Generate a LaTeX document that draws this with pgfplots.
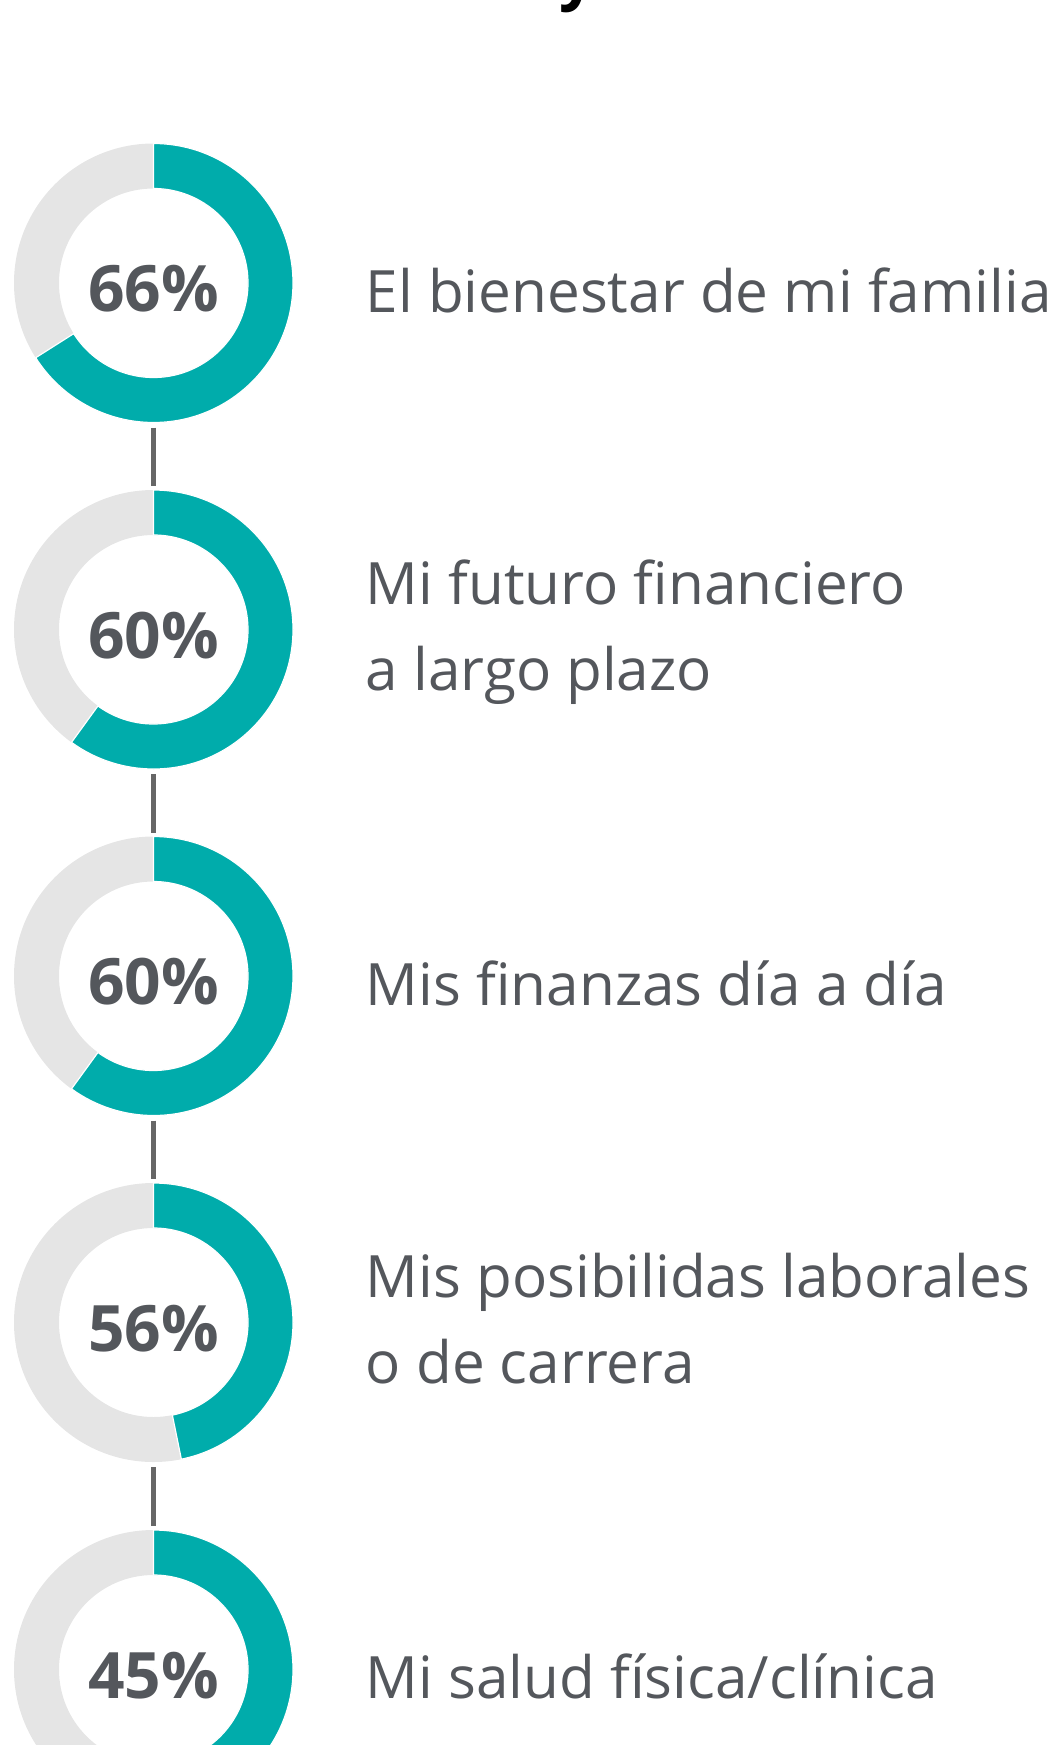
\documentclass[border=0pt]{standalone}
\usepackage{pgfplots}
\usepackage{pgfplotstable}
\pgfplotsset{compat=1.18}
\usepackage{fontspec}
\setmainfont{Open Sans}

\definecolor{ringTeal}{HTML}{00ACAB}
\definecolor{ringGray}{HTML}{E5E5E5}
\definecolor{txtGray}{HTML}{54575C}
\definecolor{linkGray}{HTML}{666666}

% one row per donut: centre (px from top), printed share, share the ring shows
% (the 56% ring is drawn at about 47% in the original)
\pgfplotstableread[col sep=comma]{
y,pct,arc
283.0,66,66
629.5,60,60
976.0,60,60
1322.5,56,46.8
1669.5,45,45
}\donuts

% description lines, baseline in px from top
\pgfplotstableread[col sep=comma]{
y,text
312,El bienestar de mi familia
604,Mi futuro financiero
690,a largo plazo
1005,Mis finanzas día a día
1297,Mis posibilidas laborales
1383,o de carrera
1698,Mi salud física/clínica
}\labels

\begin{document}
\begin{tikzpicture}
\begin{axis}[
  x=0.25pt, y=0.25pt,
  xmin=0, xmax=1063,
  ymin=0, ymax=1745,
  y dir=reverse,
  hide axis,
  clip marker paths=true,
]
% connectors between the rings
\addplot[linkGray, line width=1.25pt, unbounded coords=jump] coordinates {
  (153.5,427.5) (153.5,486)
  (153.5,nan)
  (153.5,774) (153.5,832.5)
  (153.5,nan)
  (153.5,1120.5) (153.5,1179)
  (153.5,nan)
  (153.5,1467) (153.5,1526)
};

% rings, drawn as scatter markers from the arc column
\addplot[scatter, only marks, mark=*, mark size=0pt,
  point meta=explicit symbolic,
  scatter/@pre marker code/.code={%
    \begin{pgfscope}%
    \pgfmathsetmacro\endang{90-3.6*\pgfplotspointmeta}%
    \pgfsetfillcolor{ringGray}%
    \pgfpathcircle{\pgfpointorigin}{34.875pt}%
    \pgfpathcircle{\pgfpointorigin}{23.625pt}%
    \pgfseteorule
    \pgfusepath{fill}%
    \pgfsetnonzerorule
    \pgfpathmoveto{\pgfpointpolar{90}{34.875pt}}%
    \pgfpatharc{90}{\endang}{34.875pt}%
    \pgfpathlineto{\pgfpointpolar{\endang}{23.625pt}}%
    \pgfpatharc{\endang}{90}{23.625pt}%
    \pgfpathclose
    \pgfsetfillcolor{ringTeal}%
    \pgfsetstrokecolor{white}%
    \pgfsetlinewidth{0.3pt}%
    \pgfusepath{fill,stroke}%
    \end{pgfscope}%
  },
  scatter/@post marker code/.code={},
] table[x expr=153.5, y=y, meta=arc] {\donuts};

% percentages in the centre
\addplot[only marks, mark=none,
  point meta=explicit symbolic,
  nodes near coords={\pgfplotspointmeta\%},
  every node near coord/.append style={anchor=base, inner sep=0pt,
    font=\fontsize{16}{19}\selectfont\bfseries, text=txtGray},
] table[x expr=153.5, y expr=\thisrow{y}+28.5, meta=pct] {\donuts};

% descriptions
\addplot[only marks, mark=none,
  point meta=explicit symbolic,
  nodes near coords={\pgfplotspointmeta},
  every node near coord/.append style={anchor=base west, inner sep=0pt,
    font=\fontsize{14.6}{18}\selectfont, text=txtGray},
] table[x expr=365, y=y, meta=text] {\labels};

% tail of the cut-off title above
\node[anchor=base, inner sep=0pt, font=\fontsize{16}{19}\selectfont\bfseries]
  at (axis cs:578,-3) {y};
\end{axis}
\pgfresetboundingbox
\path (current axis.south west) rectangle (current axis.north east);
\end{tikzpicture}
\end{document}
